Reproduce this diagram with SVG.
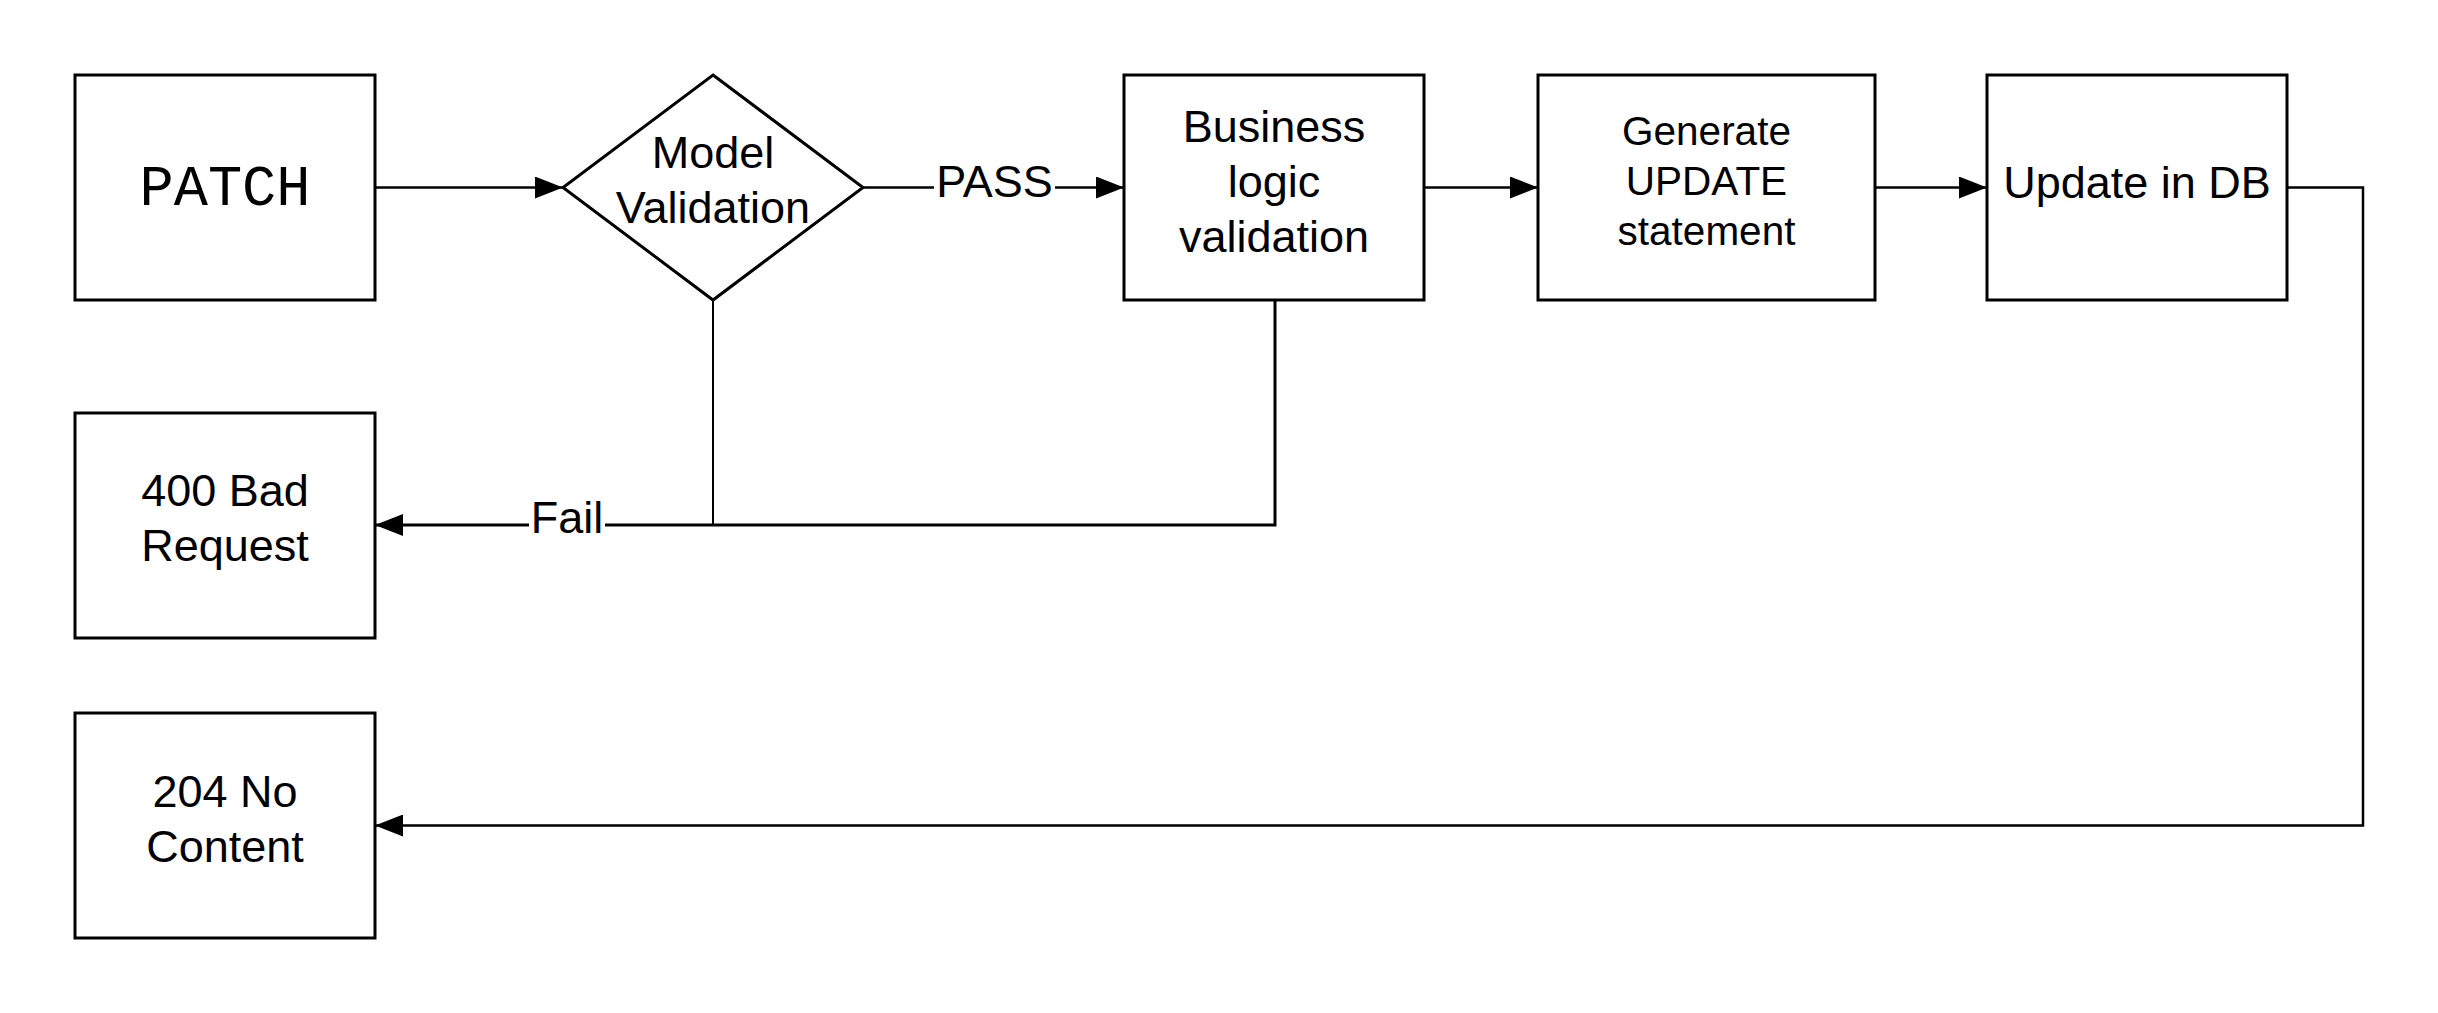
<svg xmlns="http://www.w3.org/2000/svg" width="2438" height="1013" viewBox="0 0 2438 1013">
  <style>
    .box { fill: #ffffff; stroke: #000000; stroke-width: 3; }
    .lbl { font-family: "Liberation Sans", Arial, sans-serif; font-size: 45px; fill: #000000; text-anchor: middle; }
    .sm { font-size: 40.5px; }
    .mono { font-family: "Liberation Mono", "Courier New", monospace; font-size: 57px; fill: #000000; text-anchor: middle; }
    .conn { fill: none; stroke: #000000; stroke-width: 2.5; }
    .thick { stroke-width: 3; }
    .thin { stroke-width: 2; }
    .bg { fill: #ffffff; }
  </style>
  <defs>
    <marker id="arrow" markerUnits="userSpaceOnUse" markerWidth="28" markerHeight="22" refX="28" refY="11" orient="auto">
      <path d="M0,0 L28,11 L0,22 Z" fill="#000000"/>
    </marker>
  </defs>
  <rect width="2438" height="1013" fill="#ffffff"/>

  <g id="connectors">
    <path class="conn" d="M375,187.5 H563" marker-end="url(#arrow)"/>
    <path class="conn" d="M863,187.5 H1124" marker-end="url(#arrow)"/>
    <path class="conn" d="M1424,187.5 H1538" marker-end="url(#arrow)"/>
    <path class="conn" d="M1875,187.5 H1987" marker-end="url(#arrow)"/>
    <path class="conn thin" d="M713,300 V525"/>
    <path class="conn thick" d="M1275,300 V525 H375" marker-end="url(#arrow)"/>
    <path class="conn" d="M2287,187.5 H2363 V825.5 H375" marker-end="url(#arrow)"/>
    <g id="label-pass">
      <rect class="bg" x="934" y="166" width="121" height="40"/>
      <text class="lbl" x="994.5" y="197">PASS</text>
    </g>
    <g id="label-fail">
      <rect class="bg" x="529" y="503" width="76" height="40"/>
      <text class="lbl" x="567" y="533">Fail</text>
    </g>
  </g>

  <g id="node-patch">
    <rect class="box" x="75" y="75" width="300" height="225"/>
    <text class="mono" x="225" y="205">PATCH</text>
  </g>
  <g id="node-model-validation">
    <polygon class="box" points="713,75 863,187.5 713,300 563,187.5"/>
    <text class="lbl" x="713" y="168">Model</text>
    <text class="lbl" x="713" y="223">Validation</text>
  </g>
  <g id="node-business">
    <rect class="box" x="1124" y="75" width="300" height="225"/>
    <text class="lbl" x="1274" y="142">Business</text>
    <text class="lbl" x="1274" y="197">logic</text>
    <text class="lbl" x="1274" y="252">validation</text>
  </g>
  <g id="node-generate">
    <rect class="box" x="1538" y="75" width="337" height="225"/>
    <text class="lbl sm" x="1706.5" y="145">Generate</text>
    <text class="lbl sm" x="1706.5" y="195">UPDATE</text>
    <text class="lbl sm" x="1706.5" y="245">statement</text>
  </g>
  <g id="node-update-db">
    <rect class="box" x="1987" y="75" width="300" height="225"/>
    <text class="lbl" x="2137" y="198">Update in DB</text>
  </g>
  <g id="node-400">
    <rect class="box" x="75" y="413" width="300" height="225"/>
    <text class="lbl" x="225" y="506">400 Bad</text>
    <text class="lbl" x="225" y="561">Request</text>
  </g>
  <g id="node-204">
    <rect class="box" x="75" y="713" width="300" height="225"/>
    <text class="lbl" x="225" y="807">204 No</text>
    <text class="lbl" x="225" y="862">Content</text>
  </g>
</svg>
